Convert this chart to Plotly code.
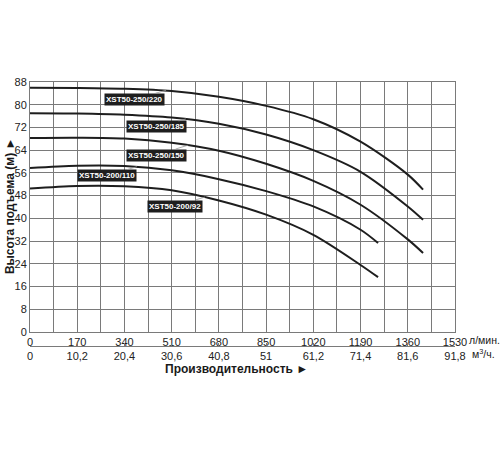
import plotly.graph_objects as go

# ---- data ----
flow_ticks = [0, 170, 340, 510, 680, 850, 1020, 1190, 1360, 1530]
flow_m3_labels = ["0", "10,2", "20,4", "30,6", "40,8", "51", "61,2", "71,4", "81,6", "91,8"]
head_ticks = [0, 8, 16, 24, 32, 40, 48, 56, 64, 72, 80, 88]

q_220 = [0, 170, 340, 510, 680, 850, 1020, 1190, 1360, 1415]
h_220 = [86.0, 85.9, 85.6, 84.8, 82.8, 79.6, 74.9, 67.0, 55.4, 50.1]

q_185 = [0, 170, 340, 510, 680, 850, 1020, 1190, 1360, 1415]
h_185 = [77.0, 76.9, 76.5, 75.5, 73.3, 69.5, 64.0, 56.4, 44.2, 39.5]

q_150 = [0, 170, 340, 510, 680, 850, 1020, 1190, 1360, 1415]
h_150 = [68.3, 68.4, 68.1, 66.6, 63.8, 59.2, 53.2, 44.8, 32.6, 27.8]

q_110 = [0, 170, 340, 510, 680, 850, 1020, 1190, 1253]
h_110 = [57.7, 58.5, 58.4, 56.9, 53.8, 49.6, 44.2, 36.0, 31.3]

q_92 = [0, 170, 340, 510, 680, 850, 1020, 1190, 1253]
h_92 = [50.5, 51.4, 51.3, 49.9, 46.3, 41.3, 34.2, 23.6, 19.3]

models = ["XST50-250/220", "XST50-250/185", "XST50-250/150", "XST50-200/110", "XST50-200/92"]
series = [(q_220, h_220), (q_185, h_185), (q_150, h_150), (q_110, h_110), (q_92, h_92)]
# label anchor points on curves (flow, head) and pixel offsets of label
label_pts = [(490, 85.1), (561, 75.0), (570, 65.8), (385, 58.2), (630, 47.5)]
label_off = [(-32, 9), (-29, 8), (-32, 10), (-30, 9), (-30, 9)]

fig = go.Figure()
for (q, h), name in zip(series, models):
    fig.add_trace(go.Scatter(x=q, y=h, mode="lines", name=name,
                             line=dict(color="#1e1e1e", width=2, shape="spline", smoothing=0.9),
                             showlegend=False, hoverinfo="skip"))

# dummy trace to activate xaxis2
fig.add_trace(go.Scatter(x=[0, 1530], y=[None, None], xaxis="x2", yaxis="y",
                         mode="lines", showlegend=False, hoverinfo="skip"))

FONT = "Liberation Sans, Arial"
annots = []
for name, (px, py), (ax, ay) in zip(models, label_pts, label_off):
    annots.append(dict(x=px, y=py, xref="x", yref="y", text="<b>%s</b>" % name,
                       showarrow=True, arrowhead=0, arrowwidth=0.8, arrowcolor="#9a9a9a",
                       ax=ax, ay=ay, bgcolor="#1e1e1e", borderpad=1,
                       font=dict(family=FONT, size=8, color="white")))

annots.append(dict(x=1, y=0.021, xref="paper", yref="paper", text="л/мин.", showarrow=False,
                   xanchor="left", yanchor="middle", xshift=12,
                   font=dict(family=FONT, size=10.5, color="#222")))
annots.append(dict(x=1, y=-0.027, xref="paper", yref="paper", text="м<sup>3</sup>/ч.", showarrow=False,
                   xanchor="left", yanchor="middle", xshift=15,
                   font=dict(family=FONT, size=10.5, color="#222")))
annots.append(dict(x=0.485, y=-0.087, xref="paper", yref="paper", text="<b>Производительность ►</b>",
                   showarrow=False, xanchor="center", yanchor="middle",
                   font=dict(family=FONT, size=12, color="#1a1a1a")))
annots.append(dict(x=0, y=0.53, xref="paper", yref="paper", text="<b>Высота подъема (м) ►</b>",
                   showarrow=False, xanchor="center", yanchor="middle", textangle=-90, xshift=-20,
                   font=dict(family=FONT, size=12, color="#1a1a1a")))

grid_c = "#7a7a7a"
fig.update_layout(
    width=500, height=450,
    margin=dict(l=30, r=45, t=82, b=104),
    paper_bgcolor="white", plot_bgcolor="white",
    font=dict(family=FONT, size=11, color="#222"),
    xaxis=dict(range=[0, 1530], tickvals=flow_ticks, ticks="", showgrid=True, automargin=False,
               gridcolor=grid_c, gridwidth=1, showline=True, linecolor=grid_c, mirror=True,
               zeroline=False, anchor="y",
               minor=dict(dtick=85, tick0=0, showgrid=True, gridcolor=grid_c, gridwidth=1),
               tickfont=dict(size=11, color="#222")),
    xaxis2=dict(range=[0, 1530], overlaying="x", anchor="free", position=0, side="bottom",
                automargin=False,
                tickvals=flow_ticks, ticktext=flow_m3_labels, ticks="inside", ticklen=3,
                tickcolor=grid_c, showline=True, linecolor=grid_c, showgrid=False, zeroline=False,
                tickfont=dict(size=11, color="#222")),
    yaxis=dict(range=[0, 88], tickvals=head_ticks, ticks="", showgrid=True, gridcolor=grid_c,
               automargin=False,
               gridwidth=1, showline=True, linecolor=grid_c, mirror=True, zeroline=False,
               domain=[0.053, 1], tickfont=dict(size=11, color="#222")),
    annotations=annots,
)

fig.write_html("out.html", config={"displayModeBar": False},
               post_script="document.body.style.margin='0';")
